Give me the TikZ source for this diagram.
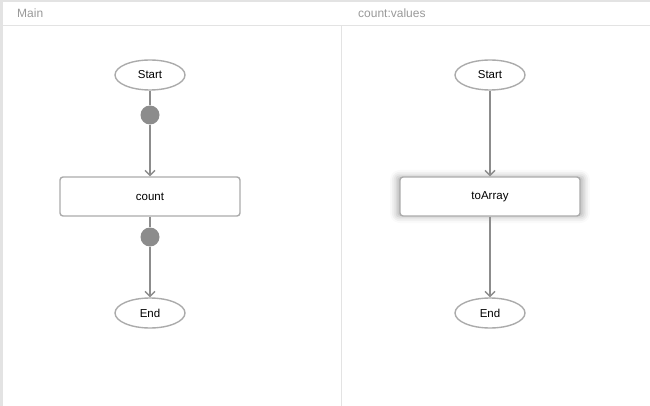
\documentclass[tikz,border=0pt]{standalone}
\usepackage{fontspec}
\setmainfont{Liberation Sans}
\usetikzlibrary{arrows.meta,shapes.geometric,shadows.blur}
\definecolor{framegray}{HTML}{E3E3E3}
\definecolor{edgegray}{HTML}{8C8C8C}
\definecolor{boxgray}{HTML}{ABABAB}
\definecolor{titlegray}{HTML}{999999}
\tikzset{
	terminal/.style={draw=boxgray, line width=1.4pt, ellipse, minimum width=70pt, minimum height=30pt, inner sep=0pt, font=\fontsize{11.5}{13}\selectfont},
	task/.style={draw=boxgray, line width=1.4pt, rounded corners=3pt, minimum width=180pt, minimum height=39pt, inner sep=0pt, fill=white, font=\fontsize{11.5}{13}\selectfont},
	port/.style={circle, fill=edgegray, minimum size=19pt, inner sep=0pt},
	flow/.style={draw=edgegray, line width=1.4pt},
	title/.style={anchor=west, inner sep=0pt, text=titlegray, font=\fontsize{12}{14}\selectfont}
}
\begin{document}
\begin{tikzpicture}[x=1pt,y=-1pt, >={Straight Barb[length=5pt,width=10pt]}]
	\useasboundingbox (0,0) rectangle (650,406);
	% frame and panels
	\fill[framegray] (0,0) rectangle (650,2.5);
	\fill[framegray] (0,0) rectangle (2.5,406);
	\draw[framegray, line width=1pt] (0,26) -- (650,26);
	\draw[framegray, line width=0.8pt] (341.5,26) -- (341.5,406);
	\node[title] (mainTitle) at (17,13.5) {Main};
	\node[title] (subTitle) at (358,13.5) {count:values};
	
	% Main
	\node[terminal] (mStart) at (150,75) {Start};
	\node[port] (mIn) at (150,115) {};
	\node[task] (mCount) at (150,196.5) {count};
	\node[port] (mOut) at (150,237) {};
	\node[terminal] (mEnd) at (150,313) {End};
	\draw[flow] (mStart) -- (mIn);
	\draw[flow,->] (mIn) -- (mCount);
	\draw[flow] (mCount) -- (mOut);
	\draw[flow,->] (mOut) -- (mEnd);
	
	% count:values
	\node[terminal] (vStart) at (490,75) {Start};
	\node[task, blur shadow={shadow xshift=0pt, shadow yshift=0pt, shadow blur radius=6pt, shadow opacity=30, shadow scale=1.04}] (vArray) at (490,196.5) {toArray};
	\node[terminal] (vEnd) at (490,313) {End};
	\draw[flow,->] (vStart) -- (vArray);
	\draw[flow,->] (vArray) -- (vEnd);
\end{tikzpicture}
\end{document}
